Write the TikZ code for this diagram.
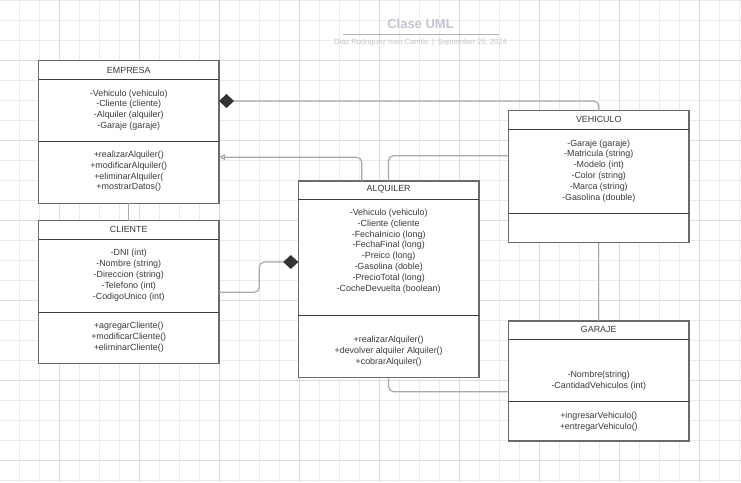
\documentclass[tikz,border=0pt]{standalone}
\usepackage{fontspec}
\setmainfont{Liberation Sans}
\usetikzlibrary{arrows.meta}
\definecolor{gridfine}{HTML}{EBEBEB}
\definecolor{gridmajor}{HTML}{DCDCDC}
\definecolor{boxc}{HTML}{6A6A6A}
\definecolor{sepc}{HTML}{3A3A3A}
\definecolor{txtc}{HTML}{3A3A3A}
\definecolor{connc}{HTML}{A8A8A8}
\definecolor{diac}{HTML}{333333}
\definecolor{titlec}{HTML}{C2C6CE}
\definecolor{subc}{HTML}{C4C7CD}
\begin{document}
\begin{tikzpicture}[x=1pt,y=-1pt,
  classbox/.style={draw=boxc, line width=1.5pt, fill=white, minimum width=180.5pt,
    inner sep=0pt, outer sep=0pt, anchor=north west},
  sepline/.style={draw=sepc, line width=0.9pt},
  txt/.style={font=\fontsize{8.9}{10.85}\selectfont, text=txtc, align=center, inner sep=0pt},
  conn/.style={draw=connc, line width=1.2pt, rounded corners=5pt},
  comp/.style={-{Diamond[length=15pt,width=14pt,fill=diac,color=diac]}},
  inh/.style={-{Triangle[open,length=6pt,width=5.5pt,fill=white,color=connc]}}
]
\fill[white] (0,0) rectangle (741,482);
\useasboundingbox (0,0) rectangle (741,482);
% grid
\foreach \i in {0,...,36} \draw[gridfine, line width=0.9pt] ({19.5+20*\i},0) -- ({19.5+20*\i},482);
\foreach \i in {0,...,24} \draw[gridfine, line width=0.9pt] (0,{0.3+20*\i}) -- (741,{0.3+20*\i});
\foreach \i in {0,...,8} \draw[gridmajor, line width=1pt] ({59.5+80*\i},0) -- ({59.5+80*\i},482);
\foreach \i in {0,...,5} \draw[gridmajor, line width=1pt] (0,{60.3+80*\i}) -- (741,{60.3+80*\i});

% title
\node[font=\bfseries\fontsize{13}{15}\selectfont, text=titlec, inner sep=0pt] (title) at (420.5,24) {Clase UML};
\draw[draw=titlec!90!black, line width=1.1pt] (343,34.3) -- (499,34.3);
\node[font=\fontsize{7.6}{9}\selectfont, text=subc, inner sep=0pt] (sub) at (420.5,42.7)
  {Diaz Rodriguez Ivan Camilo\enspace|\enspace September 25, 2024};

% class boxes
\node[classbox, minimum height=142.6pt] (emp) at (38.5,60.7) {};
\node[classbox, minimum height=142.6pt] (cli) at (38.5,220.7) {};
\node[classbox, minimum height=196.7pt] (alq) at (298.3,181) {};
\node[classbox, minimum height=132pt] (veh) at (508.5,110.7) {};
\node[classbox, minimum height=120pt] (gar) at (508.5,321) {};

% separators
\draw[sepline] ([yshift=-18.6pt]emp.north west) -- ([yshift=-18.6pt]emp.north east);
\draw[sepline] ([yshift=-80.6pt]emp.north west) -- ([yshift=-80.6pt]emp.north east);
\draw[sepline] ([yshift=-18.6pt]cli.north west) -- ([yshift=-18.6pt]cli.north east);
\draw[sepline] ([yshift=-92pt]cli.north west) -- ([yshift=-92pt]cli.north east);
\draw[sepline] ([yshift=-18.7pt]alq.north west) -- ([yshift=-18.7pt]alq.north east);
\draw[sepline] ([yshift=-134pt]alq.north west) -- ([yshift=-134pt]alq.north east);
\draw[sepline] ([yshift=-18.6pt]veh.north west) -- ([yshift=-18.6pt]veh.north east);
\draw[sepline] ([yshift=-102.6pt]veh.north west) -- ([yshift=-102.6pt]veh.north east);
\draw[sepline] ([yshift=-18.7pt]gar.north west) -- ([yshift=-18.7pt]gar.north east);
\draw[sepline] ([yshift=-80pt]gar.north west) -- ([yshift=-80pt]gar.north east);

% texts
\node[txt] (empH) at (128.75,70) {EMPRESA};
\node[txt] (empA) at (128.75,110) {-Vehiculo (vehiculo)\\-Cliente (cliente)\\-Alquiler (alquiler)\\-Garaje (garaje)};
\node[txt] (empM) at (128.75,171.4) {+realizarAlquiler()\\+modificarAlquiler()\\+eliminarAlquiler(\\+mostrarDatos()};

\node[txt] (cliH) at (128.75,229.7) {CLIENTE};
\node[txt] (cliA) at (128.75,275.2) {-DNI (int)\\-Nombre (string)\\-Direccion (string)\\-Telefono (int)\\-CodigoUnico (int)};
\node[txt] (cliM) at (128.75,336.9) {+agregarCliente()\\+modificarCliente()\\+eliminarCliente()};

\node[txt] (alqH) at (388.65,189) {ALQUILER};
\node[txt] (alqA) at (388.65,251) {-Vehiculo (vehiculo)\\-Cliente (cliente\\-FechaInicio (long)\\-FechaFinal (long)\\-Preico (long)\\-Gasolina (doble)\\-PrecioTotal (long)\\-CocheDevuelta (boolean)};
\node[txt] (alqM) at (388.65,351.4) {+realizarAlquiler()\\+devolver alquiler Alquiler()\\+cobrarAlquiler()};

\node[txt] (vehH) at (598.75,119.5) {VEHICULO};
\node[txt] (vehA) at (598.75,170.9) {-Garaje (garaje)\\-Matricula (string)\\-Modelo (int)\\-Color (string)\\-Marca (string)\\-Gasolina (double)};

\node[txt] (garH) at (598.75,329.9) {GARAJE};
\node[txt] (garA) at (598.75,380.7) {-Nombre(string)\\-CantidadVehiculos (int)};
\node[txt] (garM) at (598.75,421.7) {+ingresarVehiculo()\\+entregarVehiculo()};

% connectors
\draw[conn, comp] (veh.north) |- ([yshift=-40.3pt]emp.north east);
\draw[conn, inh] ([xshift=63.4pt]alq.north west) |- ([yshift=-96.6pt]emp.north east);
\draw[conn] (alq.north) |- ([yshift=-45pt]veh.north west);
\draw[conn] (emp.south) -- (cli.north);
\coordinate (k1) at (259.3,292.3);
\coordinate (k2) at (259.3,262);
\draw[conn, comp] ([yshift=-71.6pt]cli.north east) -- (k1) -- (k2) -- ([yshift=-81pt]alq.north west);
\draw[conn] (veh.south) -- (gar.north);
\draw[conn] (alq.south) |- ([yshift=-70.7pt]gar.north west);
\end{tikzpicture}
\end{document}
